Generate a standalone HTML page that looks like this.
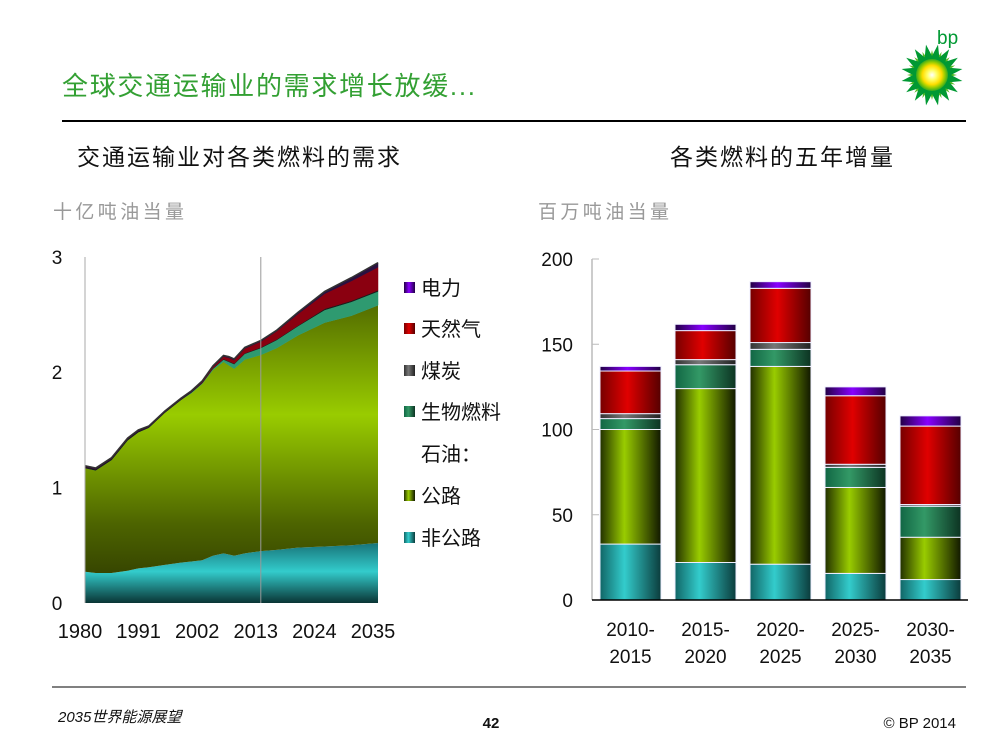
<!DOCTYPE html>
<html><head><meta charset="utf-8"><style>
body{margin:0;background:#fff}
svg{display:block;font-family:"Liberation Sans","Noto Sans CJK SC",sans-serif}
</style></head><body>
<svg id="s" width="1000" height="750" viewBox="0 0 1000 750">
<defs>
<linearGradient id="gRoad" gradientUnits="userSpaceOnUse" x1="0" y1="602" x2="0" y2="290"><stop offset="0" stop-color="#2a3400"/><stop offset="0.25" stop-color="#4d6400"/><stop offset="0.6" stop-color="#99cc00"/><stop offset="1" stop-color="#4a6000"/></linearGradient>
<linearGradient id="gCyan" gradientUnits="userSpaceOnUse" x1="0" y1="603" x2="0" y2="540"><stop offset="0" stop-color="#0a3535"/><stop offset="0.5" stop-color="#33cccc"/><stop offset="1" stop-color="#156a70"/></linearGradient>
<linearGradient id="bCyan" x1="0" x2="1"><stop offset="0" stop-color="#166"/><stop offset="0.4" stop-color="#33cccc"/><stop offset="1" stop-color="#0b3c3c"/></linearGradient>
<linearGradient id="bRoad" x1="0" x2="1"><stop offset="0" stop-color="#223000"/><stop offset="0.4" stop-color="#99cc00"/><stop offset="1" stop-color="#111800"/></linearGradient>
<linearGradient id="bBio" x1="0" x2="1"><stop offset="0" stop-color="#164"/><stop offset="0.4" stop-color="#339966"/><stop offset="1" stop-color="#0c3322"/></linearGradient>
<linearGradient id="bCoal" x1="0" x2="1"><stop offset="0" stop-color="#333"/><stop offset="0.4" stop-color="#777"/><stop offset="1" stop-color="#222"/></linearGradient>
<linearGradient id="bGas" x1="0" x2="1"><stop offset="0" stop-color="#700"/><stop offset="0.45" stop-color="#e00000"/><stop offset="1" stop-color="#500"/></linearGradient>
<linearGradient id="bPow" x1="0" x2="1"><stop offset="0" stop-color="#204"/><stop offset="0.45" stop-color="#8800ff"/><stop offset="1" stop-color="#204"/></linearGradient>
<radialGradient id="sun"><stop offset="0" stop-color="#fff"/><stop offset="0.3" stop-color="#ffff66"/><stop offset="0.6" stop-color="#ffdd00"/><stop offset="0.8" stop-color="#99cc00"/><stop offset="1" stop-color="#33aa22"/></radialGradient>
</defs>
<text x="62" y="95" font-size="26" fill="#33a033" textLength="413">全球交通运输业的需求增长放缓...</text>
<line x1="62" y1="121" x2="966" y2="121" stroke="#000" stroke-width="2"/>
<g>
<text x="937" y="44" font-size="19" fill="#009933">bp</text>
<g id="logo"></g>
</g>
<text x="77" y="165" font-size="23" fill="#111" textLength="323">交通运输业对各类燃料的需求</text>
<text x="670" y="165" font-size="23" fill="#111" textLength="223">各类燃料的五年增量</text>
<text x="53" y="218" font-size="19" fill="#999" textLength="131">十亿吨油当量</text>
<text x="538" y="218" font-size="19" fill="#999" textLength="131">百万吨油当量</text>
<g id="left"></g>
<g id="right"></g>
<g font-size="20" fill="#111">
<rect x="404" y="282" width="11" height="11" fill="url(#bPow)"/><text x="421" y="295">电力</text>
<rect x="404" y="323" width="11" height="11" fill="url(#bGas)"/><text x="421" y="336">天然气</text>
<rect x="404" y="365" width="11" height="11" fill="url(#bCoal)"/><text x="421" y="378">煤炭</text>
<rect x="404" y="406" width="11" height="11" fill="url(#bBio)"/><text x="421" y="419">生物燃料</text>
<text x="421" y="461">石油：</text>
<rect x="404" y="490" width="11" height="11" fill="url(#bRoad)"/><text x="421" y="503">公路</text>
<rect x="404" y="532" width="11" height="11" fill="url(#bCyan)"/><text x="421" y="545">非公路</text>
</g>
<line x1="52" y1="687" x2="966" y2="687" stroke="#000" stroke-width="1"/>
<text x="58" y="722" font-size="15" font-style="italic" fill="#111">2035世界能源展望</text>
<text x="491" y="728" font-size="15" font-weight="bold" text-anchor="middle" fill="#111">42</text>
<text x="956" y="728" font-size="15" text-anchor="end" fill="#111">© BP 2014</text>
</svg>
<script>
// ---- Left chart data ----
const years = [1980,1982,1985,1988,1990,1992,1995,1998,2000,2002,2004,2006,2007,2008,2010,2013,2016,2020,2025,2030,2035];
const nonRoad = [0.27,0.26,0.26,0.28,0.30,0.31,0.33,0.35,0.36,0.37,0.41,0.43,0.42,0.41,0.43,0.45,0.46,0.48,0.49,0.50,0.52];
const road = [0.90,0.89,0.98,1.13,1.18,1.21,1.32,1.41,1.46,1.53,1.61,1.66,1.64,1.62,1.68,1.70,1.75,1.84,1.94,1.99,2.06];
const biofuel = [0,0,0,0,0,0,0,0,0.005,0.005,0.01,0.02,0.03,0.04,0.05,0.06,0.07,0.08,0.11,0.12,0.12];
const coal = [0.01,0.01,0.01,0.01,0.01,0.005,0.005,0.005,0.005,0.005,0.005,0.005,0.005,0.005,0.005,0.005,0.005,0.005,0.01,0.01,0.01];
const gas = [0,0,0,0,0,0,0,0,0,0.005,0.01,0.02,0.03,0.03,0.04,0.05,0.07,0.10,0.13,0.17,0.20];
const power = [0.01,0.01,0.01,0.01,0.01,0.01,0.01,0.01,0.01,0.01,0.01,0.01,0.01,0.01,0.01,0.01,0.01,0.015,0.02,0.03,0.04];
const leftYTicks = [0,1,2,3];
const leftXTicks = [1980,1991,2002,2013,2024,2035];
// ---- Right chart data ----
const periods = [["2010-","2015"],["2015-","2020"],["2020-","2025"],["2025-","2030"],["2030-","2035"]];
const barNonRoad = [32.8,22,21,15.6,12];
const barRoad = [67.2,102,116,50.4,24.8];
const barBio = [6.4,14,10,11.8,18.2];
const barCoal = [2.9,3,4,1.8,1];
const barGas = [25,17,31.8,40.2,46];
const barPower = [2.7,3.7,3.9,5.2,6];
const rightYTicks = [0,50,100,150,200];

const NS="http://www.w3.org/2000/svg";
function mk(tag,attrs,parent){const e=document.createElementNS(NS,tag);for(const k in attrs)e.setAttribute(k,attrs[k]);parent.appendChild(e);return e;}

// logo
const logo=document.getElementById('logo');
const cx=932,cy=75;
for(let ring=0;ring<2;ring++){
  const n=16,R=ring?31:25,r=ring?19:14;
  let pts=[];
  for(let i=0;i<n*2;i++){const a=(i/(n*2))*Math.PI*2+(ring?Math.PI/16:0);const rr=i%2?r:R;pts.push((cx+rr*Math.cos(a)).toFixed(1)+","+(cy+rr*Math.sin(a)).toFixed(1));}
  const p=mk('polygon',{points:pts.join(' '),fill:ring?'#009933':'#55bb22'},logo);
  
  
}
const sunC=mk('circle',{cx:cx,cy:cy,r:16,fill:'url(#sun)'},logo);



// left chart
const L=document.getElementById('left');
const lx=y=>85+(y-1980)/(2035-1980)*(378-85);
const ly=v=>603-v*115.4;
const layers=[[nonRoad,'url(#gCyan)','area-non-road'],[road,'url(#gRoad)','area-road'],[biofuel,'#2e9a70','area-biofuel'],[coal,'#1a1a1a','area-coal'],[gas,'#8a0010','area-gas'],[power,'#2a1040','area-power']];
let base=years.map(()=>0);
layers.forEach(([vals,fill,name])=>{
  const top=base.map((b,i)=>b+vals[i]);
  let d='M'+years.map((y,i)=>lx(y).toFixed(1)+','+ly(top[i]).toFixed(1)).join('L');
  for(let i=years.length-1;i>=0;i--)d+='L'+lx(years[i]).toFixed(1)+','+ly(base[i]).toFixed(1);
  const p=mk('path',{d:d+'Z',fill:fill,stroke:fill.startsWith('url')?'none':fill,'stroke-width':0.5},L);
  
  
  base=top;
});
const tl=mk('polyline',{points:years.map((y,i)=>lx(y).toFixed(1)+','+ly(base[i]).toFixed(1)).join(' '),fill:'none',stroke:'#333','stroke-width':1.5},L);


const ax=mk('line',{x1:85,y1:257,x2:85,y2:603,stroke:'#aaa'},L);


const sep=mk('line',{x1:lx(2013),y1:257,x2:lx(2013),y2:603,stroke:'#999'},L);


leftYTicks.forEach(v=>{
  const t=mk('text',{x:57,y:ly(v)+7,'font-size':19,'text-anchor':'middle',fill:'#111'},L);t.textContent=v;
  
  
});
leftXTicks.forEach(v=>{
  const t=mk('text',{x:lx(v)-5,y:638,'font-size':20,'text-anchor':'middle',fill:'#111'},L);t.textContent=v;
  
  
});

// right chart
const R=document.getElementById('right');
const ry=v=>600-v*1.705;
const rax=mk('line',{x1:592,y1:259,x2:592,y2:600,stroke:'#bbb','stroke-width':1.5},R);


rightYTicks.forEach(v=>{
  const tk=mk('line',{x1:592,y1:ry(v),x2:599,y2:ry(v),stroke:'#bbb'},R);
  
  
  const t=mk('text',{x:573,y:ry(v)+7,'font-size':19,'text-anchor':'end',fill:'#111'},R);t.textContent=v;
  
  
});
const segs=[[barNonRoad,'url(#bCyan)','non-road'],[barRoad,'url(#bRoad)','road'],[barBio,'url(#bBio)','biofuel'],[barCoal,'url(#bCoal)','coal'],[barGas,'url(#bGas)','gas'],[barPower,'url(#bPow)','power']];
periods.forEach((p,i)=>{
  const x=600+i*75;let acc=0;
  segs.forEach(([vals,fill,name])=>{
    const y0=ry(acc),y1=ry(acc+vals[i]);acc+=vals[i];
    const r=mk('rect',{x:x,y:y1,width:61,height:Math.max(0,y0-y1),fill:fill,stroke:'#eef','stroke-width':1},R);
    
    
  });
  p.forEach((line,j)=>{
    const t=mk('text',{x:x+30.5,y:636+j*27,'font-size':19,'text-anchor':'middle',fill:'#111'},R);t.textContent=line;
    
    
  });
});
const bx=mk('line',{x1:592,y1:600,x2:968,y2:600,stroke:'#000','stroke-width':1.5},R);


</script>
</body></html>
